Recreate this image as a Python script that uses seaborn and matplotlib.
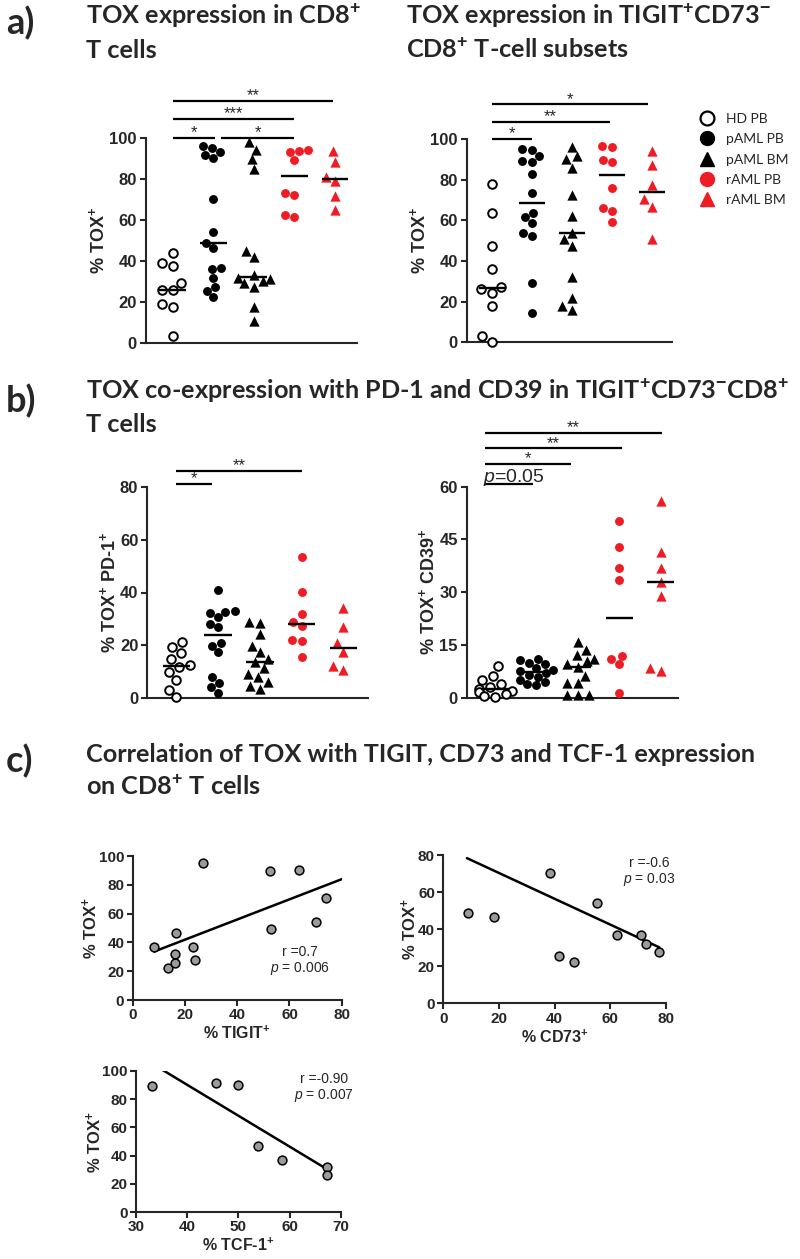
import numpy as np
import pandas as pd
import seaborn as sns
import matplotlib.pyplot as plt
from matplotlib.lines import Line2D

groups = ["HD PB", "pAML PB", "pAML BM", "rAML PB", "rAML BM"]

# a) % TOX+ in CD8+ T cells
cd8_hd_pb = [44.0, 39.2, 37.6, 29.4, 26.0, 25.8, 19.0, 17.4, 3.4]
cd8_paml_pb = [96.0, 95.0, 93.0, 91.5, 90.0, 70.2, 54.3, 48.9, 46.2, 36.6, 36.2, 31.9, 27.5, 25.5, 22.3]
cd8_paml_bm = [97.7, 94.1, 89.6, 84.7, 45.0, 41.8, 33.0, 31.5, 31.0, 30.0, 29.0, 27.5, 17.4, 10.9]
cd8_raml_pb = [94.1, 93.3, 93.0, 89.3, 73.3, 72.2, 62.4, 61.3]
cd8_raml_bm = [93.3, 88.4, 81.1, 78.7, 71.4, 64.9]

# a) % TOX+ in TIGIT+CD73- CD8+ T cells
tig_hd_pb = [77.9, 63.8, 47.5, 35.9, 27.1, 26.1, 24.1, 17.9, 3.1, 0.3]
tig_paml_pb = [95.1, 94.6, 91.6, 89.2, 88.8, 82.8, 73.6, 63.5, 61.5, 58.5, 53.9, 52.3, 29.0, 14.6]
tig_paml_bm = [96.2, 91.6, 90.0, 85.6, 72.5, 62.1, 53.6, 50.7, 47.4, 32.0, 21.6, 17.9, 15.9]
tig_raml_pb = [96.6, 96.2, 89.7, 88.7, 75.7, 65.9, 64.7, 59.0]
tig_raml_bm = [94.2, 87.2, 77.4, 70.3, 66.7, 50.7]

# b) % TOX+ PD-1+
pd1_hd_pb = [21.2, 19.3, 17.0, 15.0, 12.5, 12.0, 10.0, 7.0, 3.3, 0.5]
pd1_paml_pb = [41.0, 33.1, 32.7, 32.4, 30.6, 28.1, 26.8, 21.0, 19.9, 17.4, 8.2, 5.9, 4.2, 2.1]
pd1_paml_bm = [29.0, 28.6, 24.3, 19.9, 17.4, 14.9, 13.6, 11.3, 9.2, 7.9, 6.0, 4.6, 3.4]
pd1_raml_pb = [53.3, 40.1, 31.9, 28.7, 27.5, 22.0, 21.8, 15.5]
pd1_raml_bm = [34.0, 27.1, 20.8, 17.6, 12.2, 10.7]

# b) % TOX+ CD39+
cd39_hd_pb = [8.9, 6.2, 5.0, 4.0, 3.0, 2.5, 2.0, 1.5, 1.0, 0.5, 0.3]
cd39_paml_pb = [11.0, 10.8, 10.0, 9.5, 8.5, 8.0, 7.5, 7.0, 6.5, 6.0, 5.0, 4.5, 4.0, 3.5]
cd39_paml_bm = [15.9, 13.6, 12.0, 11.0, 10.5, 9.5, 8.8, 6.2, 4.1, 4.1, 0.8, 0.8, 0.8]
cd39_raml_pb = [50.2, 42.8, 36.8, 33.5, 11.9, 10.9, 9.5, 1.2]
cd39_raml_bm = [55.9, 41.5, 37.0, 32.8, 29.0, 8.4, 7.7]

# significance bars: (from, to, level, label)
sig_cd8 = [(0, 1.05, 100, "*"), (1.2, 3.0, 100, "*"), (0, 3.0, 109, "***"), (0, 3.95, 118, "**")]
sig_tig = [(0, 1.0, 100, "*"), (0, 2.95, 108.5, "**"), (0, 3.9, 117, "*")]
sig_pd1 = [(0, 0.84, 81, "*"), (0, 3.0, 86, "**")]
sig_cd39 = [(-0.25, 0.91, 60.8, "$p$=0.05"), (-0.25, 1.83, 66.4, "*"), (-0.25, 3.06, 70.9, "**"), (-0.25, 4.04, 75.2, "**")]

# c) correlations
tigit_pct = [8.2, 13.7, 16.2, 16.2, 16.5, 23.0, 23.9, 26.9, 52.6, 53.0, 63.8, 70.2, 74.0]
tigit_tox = [36.6, 22.5, 32.0, 25.5, 46.8, 36.6, 27.8, 95.0, 89.7, 49.2, 90.4, 54.5, 70.5]
cd73_pct = [8.8, 18.4, 38.3, 41.7, 46.9, 55.3, 62.5, 71.2, 73.0, 77.7]
cd73_tox = [49.0, 46.7, 70.3, 25.8, 22.5, 54.4, 36.8, 36.8, 31.9, 27.9]
tcf1_pct = [33.1, 45.6, 49.9, 53.9, 58.5, 67.4, 67.4]
tcf1_tox = [89.7, 91.8, 90.4, 46.8, 36.6, 32.0, 26.0]

fit_slopes = [0.70, -0.697, -2.19]
fit_intercepts = [27.9, 84.4, 177.8]
fit_spans = [(8.2, 80), (8.5, 77.7), (33.1, 67.4)]
stat_r = ["r =0.7", "r =-0.6", "r =-0.90"]
stat_p = ["$p$ = 0.006", "$p$ = 0.03", "$p$ = 0.007"]

RED = "#ee1c24"
W, H = 800, 1259

sns.set_style("ticks")
plt.rcParams["font.family"] = ["Liberation Sans", "DejaVu Sans"]
plt.rcParams["mathtext.fontset"] = "custom"
plt.rcParams["mathtext.rm"] = "Liberation Sans:bold"
plt.rcParams["mathtext.bf"] = "Liberation Sans:bold"
plt.rcParams["mathtext.it"] = "Liberation Sans:italic"

marker_style = {
    "HD PB": dict(marker="o", color="white", edgecolor="black", linewidth=1.4, size=6.2),
    "pAML PB": dict(marker="o", color="black", edgecolor="black", linewidth=0, size=6.4),
    "pAML BM": dict(marker="^", color="black", edgecolor="black", linewidth=0, size=7.4),
    "rAML PB": dict(marker="o", color=RED, edgecolor=RED, linewidth=0, size=6.4),
    "rAML BM": dict(marker="^", color=RED, edgecolor=RED, linewidth=0, size=7.4),
}

fig = plt.figure(figsize=(W / 100, H / 100), dpi=100)


def add_axes_px(x0, x1, ytop, ybot):
    return fig.add_axes([x0 / W, 1 - ybot / H, (x1 - x0) / W, (ybot - ytop) / H])


def dot_panel(ax, values, ymax, ystep, ylabel, xlim, bars):
    df = pd.DataFrame({"group": np.repeat(groups, [len(v) for v in values]),
                       "value": np.concatenate(values)})
    for g in groups:
        sns.swarmplot(data=df[df["group"] == g], x="group", y="value", order=groups,
                      ax=ax, **marker_style[g])
    for coll in ax.collections:
        coll.set_clip_on(False)
    med = df.groupby("group")["value"].median()
    for i, g in enumerate(groups):
        ax.plot([i - 0.33, i + 0.33], [med[g], med[g]], color="black", lw=1.7,
                zorder=5, solid_capstyle="butt")
    for x0, x1, y, label in bars:
        ax.plot([x0, x1], [y, y], color="black", lw=1.6, clip_on=False, solid_capstyle="butt")
        if label.startswith("$p$"):
            ax.annotate(label, (x0, y), xytext=(-1, 1.5), textcoords="offset points",
                        ha="left", va="baseline", fontsize=14, fontweight="normal",
                        annotation_clip=False)
        else:
            ax.annotate(label, ((x0 + x1) / 2, y), xytext=(0, 0.5), textcoords="offset points",
                        ha="center", va="baseline", fontsize=12, fontweight="normal",
                        annotation_clip=False)
    ax.set_xlim(*xlim)
    ax.set_ylim(0, ymax)
    ax.set_yticks(np.arange(0, ymax + 1, ystep))
    ax.set_xticks([])
    ax.set_xlabel("")
    ax.set_ylabel(ylabel, fontsize=13, fontweight="bold", labelpad=1)
    sns.despine(ax=ax)
    for s in ["left", "bottom"]:
        ax.spines[s].set_linewidth(1.5)
    ax.tick_params(axis="y", length=4.5, width=1.5, labelsize=12, pad=2)
    for t in ax.get_yticklabels():
        t.set_fontweight("bold")


def corr_panel(ax, x, y, k, xlim, xticks, ylim, yticks, xlabel, stat_xy):
    sns.scatterplot(x=x, y=y, ax=ax, s=40, color="#9b9b9b", edgecolor="black",
                    linewidth=1.1, zorder=3, clip_on=False)
    xx = np.array(fit_spans[k])
    ax.plot(xx, fit_slopes[k] * xx + fit_intercepts[k], color="black", lw=1.8, zorder=2)
    ax.set_xlim(*xlim)
    ax.set_ylim(*ylim)
    ax.set_xticks(xticks)
    ax.set_yticks(yticks)
    ax.set_xlabel(xlabel, fontsize=11.5, fontweight="bold", labelpad=2)
    ax.set_ylabel("% TOX$^{+}$", fontsize=12, fontweight="bold", labelpad=-1)
    sns.despine(ax=ax)
    for s in ["left", "bottom"]:
        ax.spines[s].set_linewidth(1.5)
    ax.tick_params(length=4, width=1.5, labelsize=11, pad=2)
    for t in ax.get_xticklabels() + ax.get_yticklabels():
        t.set_fontweight("bold")
    sx, sy1, sy2 = stat_xy
    ax.text(sx, sy1, stat_r[k], ha="center", va="center", fontsize=10,
            fontweight="normal", clip_on=False)
    ax.text(sx, sy2, stat_p[k], ha="center", va="center", fontsize=10,
            fontweight="normal", clip_on=False)


# panel a
ax = add_axes_px(145.7, 357, 137.7, 343)
dot_panel(ax, [cd8_hd_pb, cd8_paml_pb, cd8_paml_bm, cd8_raml_pb, cd8_raml_bm],
          100, 20, "% TOX$^{+}$", (-0.665, 4.54), sig_cd8)
ax = add_axes_px(466.7, 671.7, 139, 342.3)
dot_panel(ax, [tig_hd_pb, tig_paml_pb, tig_paml_bm, tig_raml_pb, tig_raml_bm],
          100, 20, "% TOX$^{+}$", (-0.625, 4.5), sig_tig)

# panel b
ax = add_axes_px(147.3, 368.3, 486.7, 698.3)
dot_panel(ax, [pd1_hd_pb, pd1_paml_pb, pd1_paml_bm, pd1_raml_pb, pd1_raml_bm],
          80, 20, "% TOX$^{+}$ PD-1$^{+}$", (-0.7, 4.6), sig_pd1)
ax = add_axes_px(467, 678.3, 486.7, 697.7)
dot_panel(ax, [cd39_hd_pb, cd39_paml_pb, cd39_paml_bm, cd39_raml_pb, cd39_raml_bm],
          60, 15, "% TOX$^{+}$ CD39$^{+}$", (-0.68, 4.43), sig_cd39)

# panel c
ax = add_axes_px(132.7, 341.7, 856, 1000)
corr_panel(ax, tigit_pct, tigit_tox, 0, (0, 80), range(0, 81, 20), (0, 100),
           range(0, 101, 20), "% TIGIT$^{+}$", (64, 33.6, 21.6))
ax = add_axes_px(443.3, 665.7, 855.3, 1003.3)
corr_panel(ax, cd73_pct, cd73_tox, 1, (0, 80), range(0, 81, 20), (0, 80),
           range(0, 81, 20), "% CD73$^{+}$", (74, 76, 66.7))
ax = add_axes_px(136, 340.7, 1071, 1212)
corr_panel(ax, tcf1_pct, tcf1_tox, 2, (30, 70), range(30, 71, 10), (0, 100),
           range(0, 101, 20), "% TCF-1$^{+}$", (66.8, 94.5, 82.3))

# legend
handles = [
    Line2D([], [], ls="", marker="o", mfc="white", mec="black", mew=1.6, ms=10),
    Line2D([], [], ls="", marker="o", mfc="black", mec="black", ms=10),
    Line2D([], [], ls="", marker="^", mfc="black", mec="black", ms=10.5),
    Line2D([], [], ls="", marker="o", mfc=RED, mec=RED, ms=10),
    Line2D([], [], ls="", marker="^", mfc=RED, mec=RED, ms=10.5),
]
fig.legend(handles, groups, loc="upper left", bbox_to_anchor=(700 / W, 1 - 113 / H),
           frameon=False, handlelength=1.0, handletextpad=0.9, labelspacing=0.6,
           borderpad=0, borderaxespad=0,
           prop=dict(family=["Lato", "DejaVu Sans"], size=10, weight="normal"))

# titles
title_font = dict(family=["Lato", "DejaVu Sans"], fontweight="bold", fontsize=18.2, va="baseline")
letter_font = dict(family=["Lato", "DejaVu Sans"], fontweight="bold", fontsize=26, va="baseline")


def ftext(x, y, s, **kw):
    fig.text(x / W, 1 - y / H, s, **kw)


ftext(6, 34, "a)", **letter_font)
ftext(86, 24, "TOX expression in CD8$^{+}$", **title_font)
ftext(86, 58, "T cells", **title_font)
ftext(406, 24, "TOX expression in TIGIT$^{+}$CD73$^{-}$", **title_font)
ftext(406, 58, "CD8$^{+}$ T-cell subsets", **title_font)

ftext(6, 412, "b)", **letter_font)
ftext(86, 399, "TOX co-expression with PD-1 and CD39 in TIGIT$^{+}$CD73$^{-}$CD8$^{+}$", **title_font)
ftext(86, 432, "T cells", **title_font)

ftext(6, 772, "c)", **letter_font)
ftext(86, 762, "Correlation of TOX with TIGIT, CD73 and TCF-1 expression", **title_font)
ftext(86, 795, "on CD8$^{+}$ T cells", **title_font)

fig.savefig("out.png", dpi=100)
